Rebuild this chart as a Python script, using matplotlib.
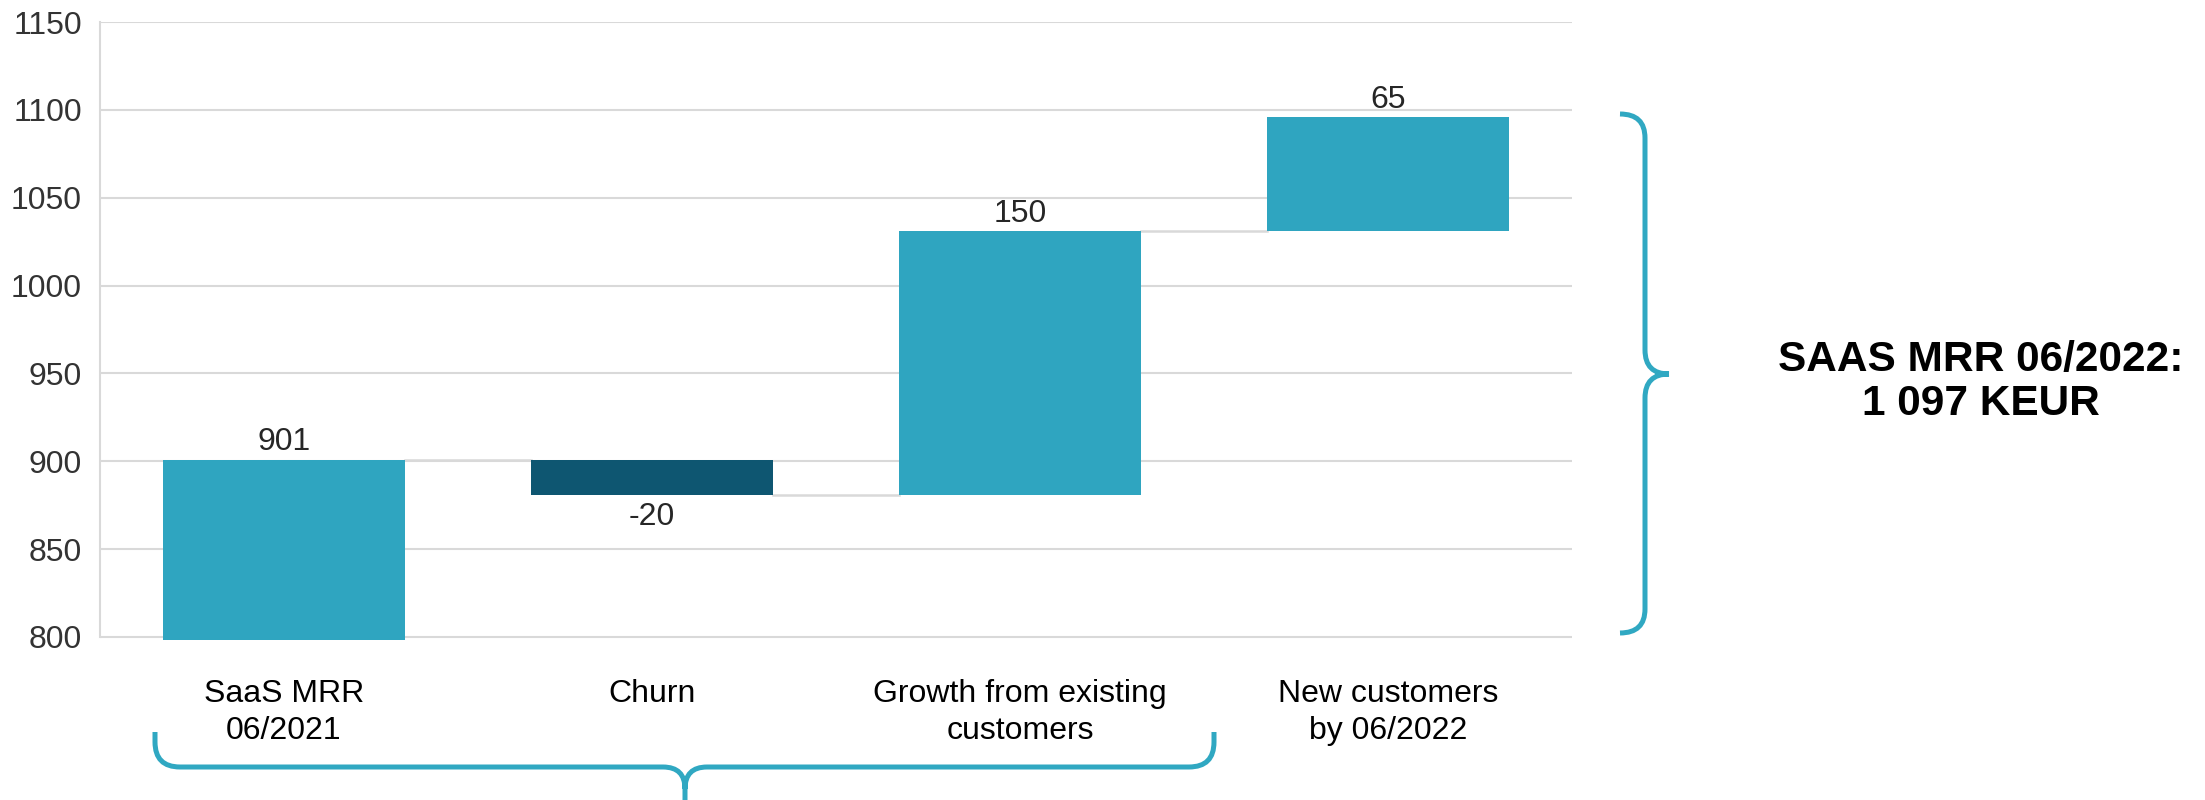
import numpy as np
import matplotlib.pyplot as plt
from matplotlib.path import Path
from matplotlib.patches import PathPatch

# ---------- data ----------
categories = ["SaaS MRR\n06/2021", "Churn", "Growth from existing\ncustomers", "New customers\nby 06/2022"]
values = [901, -20, 150, 65]
value_labels = ["901", "-20", "150", "65"]
yticks = [800, 850, 900, 950, 1000, 1050, 1100, 1150]
total_text = "SAAS MRR 06/2022:\n1 097 KEUR"

plt.rcParams['font.family'] = ['Liberation Sans', 'DejaVu Sans']

W, H = 2205, 800
fig = plt.figure(figsize=(W / 100, H / 100), dpi=100)
ax = fig.add_axes([100 / W, 0.1994, (1572 - 100) / W, 0.7731])

light = '#2fa5c0'
dark = '#0e5671'
gridc = '#d9d9d9'

base = 798  # first bar starts a hair under the axis floor
x = np.arange(len(values))
ends = np.cumsum(values)
starts = np.concatenate([[base], ends[:-1]])
bottoms = np.minimum(starts, ends)
heights = np.abs(ends - starts)
colors = [dark if v < 0 else light for v in values]

w = 0.66
ax.bar(x, heights, bottom=bottoms, width=w, color=colors, zorder=3, clip_on=False)

# connectors
for i in range(len(values) - 1):
    ax.plot([x[i] + w / 2, x[i + 1] - w / 2], [ends[i], ends[i]], color=gridc, lw=1.8, zorder=2)

# value labels
for i, v in enumerate(values):
    if v < 0:
        ax.annotate(value_labels[i], (x[i], bottoms[i]), xytext=(0, -5), textcoords='offset points',
                    ha='center', va='top', fontsize=23, color='#262626')
    else:
        ax.annotate(value_labels[i], (x[i], bottoms[i] + heights[i]), xytext=(0, 1.5), textcoords='offset points',
                    ha='center', va='bottom', fontsize=23, color='#262626')

ax.set_xlim(-0.5, 3.5)
ax.set_ylim(base, 1150)
ax.set_yticks(yticks)
ax.set_xticks(x)
ax.set_xticklabels(categories, linespacing=1.28)
ax.tick_params(axis='y', length=0, pad=13, labelsize=23, labelcolor='#333333')
ax.tick_params(axis='x', length=0, pad=28, labelsize=23, labelcolor='black')
ax.grid(axis='y', color=gridc, lw=1.5)
ax.set_axisbelow(True)
for s in ['top', 'right', 'bottom']:
    ax.spines[s].set_visible(False)
ax.spines['left'].set_color(gridc)
ax.spines['left'].set_linewidth(1.5)
ax.spines['left'].set_bounds(800, 1150)


# ---------- braces (pixel coords, y down) ----------
def P(px, py):
    return (px / W, 1 - py / H)


M, L, C = Path.MOVETO, Path.LINETO, Path.CURVE3
bottom_brace = [
    (M, (155, 732)), (L, (155, 742)), (C, (155, 767)), (C, (180, 767)),
    (L, (663, 767)), (C, (685, 767)), (C, (685, 789)), (L, (685, 800)),
    (M, (1214, 732)), (L, (1214, 742)), (C, (1214, 767)), (C, (1189, 767)),
    (L, (707, 767)), (C, (685, 767)), (C, (685, 789)),
]
right_brace = [
    (M, (1620, 114)), (C, (1645, 114)), (C, (1645, 138)),
    (L, (1645, 350)), (C, (1645, 374)), (C, (1669, 374)),
    (M, (1620, 633)), (C, (1645, 633)), (C, (1645, 609)),
    (L, (1645, 398)), (C, (1645, 374)), (C, (1669, 374)),
]
for br in [bottom_brace, right_brace]:
    codes = [c for c, _ in br]
    verts = [P(*p) for _, p in br]
    fig.add_artist(PathPatch(Path(verts, codes), transform=fig.transFigure, fill=False,
                             edgecolor='#30a8c2', lw=3.6, capstyle='butt', joinstyle='round'))

fig.text(1981 / W, 1 - 382 / H, total_text, ha='center', va='center', fontsize=30.5,
         fontweight='bold', color='black', linespacing=1.1)

fig.savefig('out.png', dpi=100, facecolor='white')
